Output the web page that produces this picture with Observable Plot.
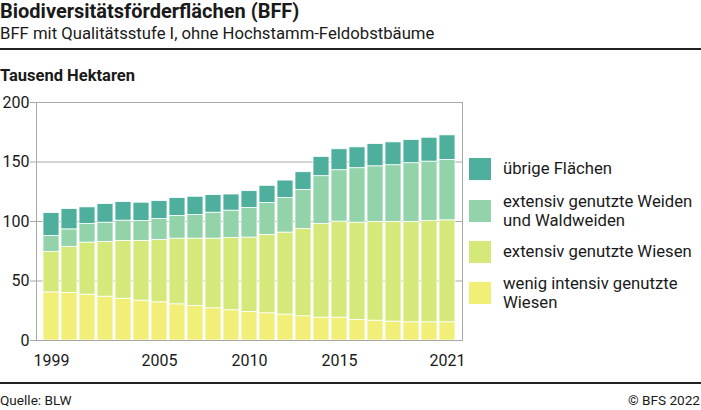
<!DOCTYPE html>
<html>
<head>
<meta charset="utf-8">
<script src="https://cdn.jsdelivr.net/npm/d3@7"></script>
<script src="https://cdn.jsdelivr.net/npm/@observablehq/plot@0.6"></script>
<style>
  html, body { margin: 0; padding: 0; background: #fff; }
  body { font-family: Roboto, "Noto Sans", sans-serif; color: #1a1a1a; }
  #wrap { position: relative; width: 701px; height: 410px; overflow: hidden; }
  .abs { position: absolute; white-space: nowrap; }
  #title { left: 0; top: -1px; font-size: 20px; line-height: 24px; font-weight: bold; }
  #subtitle { left: 0; top: 23.5px; font-size: 16.7px; line-height: 20px; }
  #rule1 { left: 0; top: 48px; width: 701px; height: 2px; background: #222; }
  #unit { left: 0; top: 66px; font-size: 16.5px; line-height: 20px; font-weight: bold; }
  #chart { left: 0; top: 90px; }
  #rule2 { left: 0; top: 382px; width: 701px; height: 1.7px; background: #222; }
  #source { left: 0; top: 392px; font-size: 13.6px; line-height: 17px; }
  #copy { right: 1px; top: 392px; font-size: 13.6px; line-height: 17px; }
  .leg { position: absolute; left: 469px; height: 22px; display: flex; align-items: center; overflow: visible; }
  .sw { width: 22px; height: 22px; flex: none; }
  .lt { margin-left: 12px; font-size: 16.7px; line-height: 19.3px; white-space: nowrap; }
</style>
</head>
<body>
<div id="wrap">
  <div id="title" class="abs">Biodiversitätsförderflächen (BFF)</div>
  <div id="subtitle" class="abs">BFF mit Qualitätsstufe I, ohne Hochstamm-Feldobstbäume</div>
  <div id="rule1" class="abs"></div>
  <div id="unit" class="abs">Tausend Hektaren</div>
  <div id="chart" class="abs"></div>
  <div id="legend"></div>
  <div id="rule2" class="abs"></div>
  <div id="source" class="abs">Quelle: BLW</div>
  <div id="copy" class="abs">© BFS 2022</div>
</div>
<script>
const years = [1999, 2000, 2001, 2002, 2003, 2004, 2005, 2006, 2007, 2008, 2009, 2010,
               2011, 2012, 2013, 2014, 2015, 2016, 2017, 2018, 2019, 2020, 2021];
const wenigIntensiv = [40.4, 39.9, 38.5, 36.8, 35.1, 33.5, 32.1, 30.4, 29.0, 27.1, 25.4, 24.0,
                       22.9, 21.8, 20.4, 19.2, 19.2, 17.3, 16.7, 15.9, 15.3, 15.3, 15.3];
const extensivWiesen = [34.1, 38.8, 43.8, 46.0, 48.6, 50.2, 52.4, 55.2, 56.6, 58.5, 60.8, 62.5,
                        65.8, 68.9, 73.3, 78.7, 80.7, 81.7, 82.9, 83.7, 84.3, 85.1, 85.7];
const extensivWeiden = [13.4, 14.7, 15.6, 16.2, 17.0, 16.7, 17.6, 19.0, 19.8, 21.8, 22.9, 24.8,
                        26.8, 29.0, 32.7, 40.2, 43.2, 45.8, 46.8, 47.7, 49.4, 49.9, 50.7];
const uebrige = [19.2, 17.1, 14.0, 15.6, 15.6, 15.4, 15.1, 15.1, 15.4, 14.8, 13.6, 14.2,
                 14.5, 14.7, 15.0, 16.2, 17.6, 17.5, 18.7, 19.2, 19.5, 20.1, 20.7];

const categories = ["wenig intensiv genutzte Wiesen", "extensiv genutzte Wiesen",
                    "extensiv genutzte Weiden und Waldweiden", "übrige Flächen"];
const colors = ["#f1ef77", "#d5e97b", "#92d3a9", "#4daf9c"];
const xTicks = [1999, 2005, 2010, 2015, 2021];
const yTicks = [0, 50, 100, 150, 200];

const series = [wenigIntensiv, extensivWiesen, extensivWeiden, uebrige];
const data = [];
years.forEach((yr, i) => {
  categories.forEach((c, k) => data.push({year: yr, cat: c, value: series[k][i]}));
});

const chart = Plot.plot({
  width: 701,
  height: 280,
  marginLeft: 36,
  marginRight: 239,
  marginTop: 12,
  marginBottom: 30,
  style: {fontFamily: "Roboto, sans-serif", color: "#1a1a1a", background: "transparent"},
  x: {type: "band", domain: years, paddingInner: 0.12, paddingOuter: 0.27},
  y: {domain: [0, 200]},
  color: {domain: categories, range: colors},
  marks: [
    Plot.gridY([50, 100, 150], {stroke: "#a8a8a8", strokeOpacity: 1}),
    Plot.barY(data, {x: "year", y: "value", fill: "cat", stroke: "white", strokeWidth: 0.8, order: categories}),
    Plot.frame({stroke: "#a8a8a8"}),
    Plot.axisY(yTicks, {tickSize: 6, tickPadding: 1, fontSize: 16, stroke: "#a8a8a8", fill: "#1a1a1a", label: null}),
    Plot.axisX(xTicks, {tickSize: 0, tickPadding: 14, fontSize: 16, fill: "#1a1a1a", label: null, tickFormat: d => String(d)})
  ]
});
document.getElementById("chart").appendChild(chart);

// legend (top-to-bottom: reverse stacking order)
const legendTops = [158, 200, 241, 282];
const legendLabels = ["übrige Flächen", "extensiv genutzte Weiden<br>und Waldweiden",
                      "extensiv genutzte Wiesen", "wenig intensiv genutzte<br>Wiesen"];
const legendColors = [colors[3], colors[2], colors[1], colors[0]];
const leg = document.getElementById("legend");
legendLabels.forEach((lab, i) => {
  const item = document.createElement("div");
  item.className = "leg";
  item.style.top = legendTops[i] + "px";
  item.innerHTML = `<div class="sw" style="background:${legendColors[i]}"></div><div class="lt">${lab}</div>`;
  leg.appendChild(item);
});
</script>
</body>
</html>
